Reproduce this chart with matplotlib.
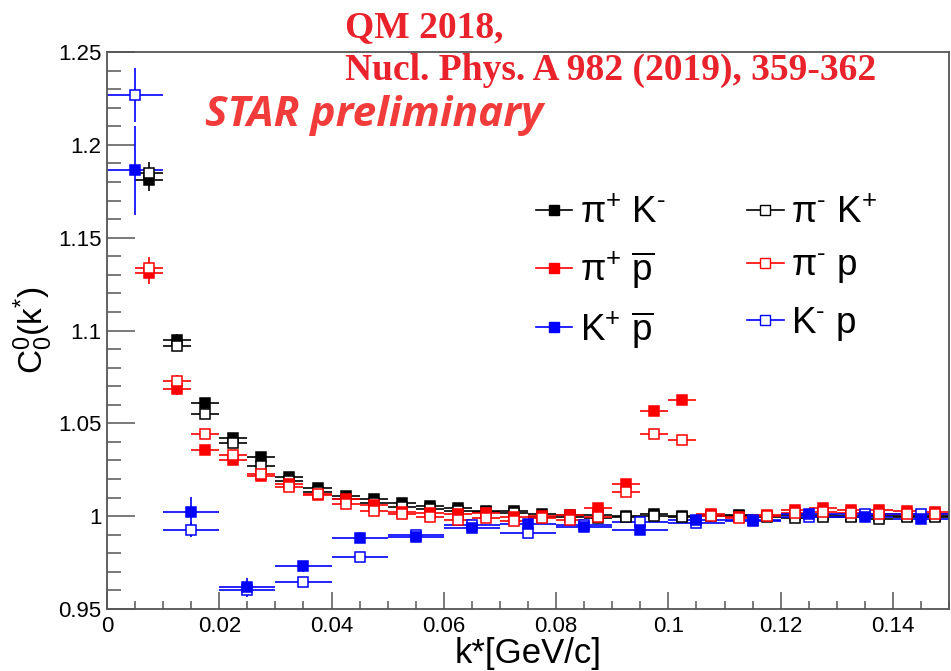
import matplotlib
matplotlib.use("Agg")
import matplotlib.pyplot as plt
from matplotlib.lines import Line2D
from matplotlib.ticker import MultipleLocator

plt.rcParams['font.family'] = ['Liberation Sans', 'DejaVu Sans']
plt.rcParams['mathtext.fontset'] = 'custom'
plt.rcParams['mathtext.rm'] = 'Liberation Sans'
plt.rcParams['mathtext.it'] = 'Liberation Sans:italic'
plt.rcParams['mathtext.bf'] = 'Liberation Sans:bold'

# pion-kaon and pion-proton bins (k*, GeV/c)
k_fine = [0.0075, 0.0125, 0.0175, 0.0225, 0.0275, 0.0325, 0.0375, 0.0425,
          0.0475, 0.0525, 0.0575, 0.0625, 0.0675, 0.0725, 0.0775, 0.0825,
          0.0875, 0.0925, 0.0975, 0.1025, 0.1075, 0.1125, 0.1175, 0.1225,
          0.1275, 0.1325, 0.1375, 0.1425, 0.1475]
# kaon-proton bins
k_wide = [0.005, 0.015, 0.025, 0.035, 0.045, 0.055, 0.065, 0.075,
          0.085, 0.095, 0.105, 0.115, 0.125, 0.135, 0.145]

pipKm = [1.181, 1.095, 1.061, 1.042, 1.032, 1.021, 1.015, 1.011,
         1.0095, 1.007, 1.0054, 1.0042, 1.003, 1.003, 1.001, 1.0005,
         1.0007, 1.0, 1.001, 1.0, 1.0005, 1.0005, 1.0, 1.0007,
         1.0005, 1.0, 1.0, 1.0, 1.0]
pipKm_err = [0.006, 0.003, 0.002, 0.002, 0.0015, 0.0015, 0.001, 0.001,
             0.001, 0.001, 0.001, 0.001, 0.001, 0.001, 0.001, 0.001,
             0.001, 0.001, 0.001, 0.001, 0.001, 0.001, 0.001, 0.001,
             0.001, 0.001, 0.001, 0.001, 0.001]

pimKp = [1.1848, 1.0918, 1.0553, 1.0395, 1.027, 1.019, 1.013, 1.0095,
         1.007, 1.005, 1.004, 1.003, 1.002, 1.0015, 0.9995, 0.9995,
         0.9991, 0.9995, 1.0, 0.9995, 1.0, 1.0, 0.9995, 0.9991,
         0.9995, 0.9995, 0.9984, 0.9995, 0.9995]
pimKp_err = pipKm_err

pipPbar = [1.1308, 1.0683, 1.0356, 1.0302, 1.0216, 1.0172, 1.0113, 1.0095,
           1.006, 1.0023, 1.0018, 1.001, 1.0018, 0.9996, 1.0, 1.0005,
           1.0045, 1.0176, 1.0567, 1.0625, 1.001, 0.9996, 1.0005, 1.0035,
           1.0042, 1.0035, 1.0032, 1.0029, 1.0024]
pipPbar_err = [0.006, 0.003, 0.002, 0.0015, 0.0015, 0.001, 0.001, 0.001,
               0.001, 0.001, 0.001, 0.001, 0.001, 0.001, 0.001, 0.001,
               0.001, 0.0015, 0.0015, 0.0015, 0.001, 0.001, 0.001, 0.001,
               0.001, 0.001, 0.001, 0.001, 0.001]

pimP = [1.1338, 1.0729, 1.044, 1.033, 1.0225, 1.0158, 1.0122, 1.0068,
        1.0029, 1.001, 0.9996, 0.9978, 0.9988, 0.9973, 0.9988, 0.9978,
        0.9996, 1.0131, 1.0442, 1.041, 1.0, 0.999, 1.0, 1.0015,
        1.002, 1.0015, 1.001, 1.001, 1.001]
pimP_err = pipPbar_err

KpPbar = [1.1864, 1.002, 0.9616, 0.973, 0.9883, 0.9889, 0.9939, 0.996,
          0.9942, 0.9928, 0.9978, 0.9975, 1.0014, 0.9996, 0.9984]
KpPbar_err = [0.024, 0.0085, 0.005, 0.003, 0.003, 0.002, 0.0015, 0.0015,
              0.0015, 0.0015, 0.001, 0.001, 0.001, 0.001, 0.001]

KmP = [1.2268, 0.9928, 0.9605, 0.9648, 0.978, 0.9897, 0.9952, 0.9912,
       0.995, 0.9966, 0.9965, 0.998, 0.9993, 1.001, 1.0014]
KmP_err = [0.0145, 0.004, 0.003, 0.002, 0.002, 0.0015, 0.0015, 0.001,
           0.001, 0.001, 0.001, 0.001, 0.001, 0.001, 0.001]

fig = plt.figure(figsize=(9.51, 6.71), dpi=100)
ax = fig.add_axes([0.1125, 0.0924, 0.8855, 0.830])

ms = 6.5
def draw(x, y, yerr, xw, color, filled):
    ax.errorbar(x, y, xerr=xw, yerr=yerr, fmt='s', ms=ms, color=color,
                mfc=color if filled else 'white', mec=color, mew=1.1,
                ecolor=color, elinewidth=1.2, capsize=0)

draw(k_fine, pipKm, pipKm_err, 0.0025, 'black', True)
draw(k_fine, pimKp, pimKp_err, 0.0025, 'black', False)
draw(k_fine, pipPbar, pipPbar_err, 0.0025, '#ff0000', True)
draw(k_fine, pimP, pimP_err, 0.0025, '#ff0000', False)
draw(k_wide, KmP, KmP_err, 0.005, '#0000ff', False)
draw(k_wide, KpPbar, KpPbar_err, 0.005, '#0000ff', True)

ax.set_xlim(0, 0.15)
ax.set_ylim(0.95, 1.25)
ax.xaxis.set_minor_locator(MultipleLocator(0.005))
ax.yaxis.set_minor_locator(MultipleLocator(0.01))
ax.set_xticks([0, 0.02, 0.04, 0.06, 0.08, 0.1, 0.12, 0.14])
ax.set_xticklabels(['0', '0.02', '0.04', '0.06', '0.08', '0.1', '0.12', '0.14'])
ax.set_yticks([0.95, 1.0, 1.05, 1.1, 1.15, 1.2, 1.25])
ax.set_yticklabels(['0.95', '1', '1.05', '1.1', '1.15', '1.2', '1.25'])

for s in ax.spines.values():
    s.set_color('#555555')
    s.set_linewidth(1.3)
ax.tick_params(axis='both', which='both', direction='in', colors='#555555',
               labelcolor='black', labelsize=16, width=1.1)
ax.tick_params(axis='x', which='major', length=12, pad=5)
ax.tick_params(axis='x', which='minor', length=6)
ax.tick_params(axis='y', which='major', length=20, pad=4)
ax.tick_params(axis='y', which='minor', length=10)

ax.set_xlabel('k*[GeV/c]', fontsize=25, labelpad=0)
ax.set_ylabel(r'C$_{0}^{0}$(k$^{*}$)', fontsize=24, labelpad=2)

handles = [
    Line2D([], [], color='black', marker='s', ms=ms, mfc='black', lw=1.2),
    Line2D([], [], color='#ff0000', marker='s', ms=ms, mfc='#ff0000', lw=1.2),
    Line2D([], [], color='#0000ff', marker='s', ms=ms, mfc='#0000ff', lw=1.2),
    Line2D([], [], color='black', marker='s', ms=ms, mfc='white', lw=1.2),
    Line2D([], [], color='#ff0000', marker='s', ms=ms, mfc='white', lw=1.2),
    Line2D([], [], color='#0000ff', marker='s', ms=ms, mfc='white', lw=1.2),
]
labels = [r'$\mathrm{\pi^{+}\ K^{\text{-}}}$', r'$\mathrm{\pi^{+}\ \overline{p}}$',
          r'$\mathrm{K^{+}\ \overline{p}}$', r'$\mathrm{\pi^{\text{-}}\ K^{+}}$',
          r'$\mathrm{\pi^{\text{-}}\ p}$', r'$\mathrm{K^{\text{-}}\ p}$']
ax.legend(handles, labels, ncol=2, loc='upper left', bbox_to_anchor=(0.509, 0.742),
          frameon=False, fontsize=26.5, borderpad=0, borderaxespad=0,
          handlelength=1.0, handletextpad=0.2, columnspacing=2.2, labelspacing=0.5)

red = '#e9222b'
fig.text(345 / 951, 1 - 28 / 671, 'QM 2018,', family='Liberation Serif',
         weight='bold', fontsize=27, color=red, va='center', ha='left')
fig.text(345 / 951, 1 - 70 / 671, 'Nucl. Phys. A 982 (2019), 359-362',
         family='Liberation Serif', weight='bold', fontsize=27, color=red,
         va='center', ha='left')
fig.text(205 / 951, 1 - 115 / 671, 'STAR preliminary', family='Open Sans',
         weight='bold', style='italic', fontsize=30.5, color='#f23b3b',
         va='center', ha='left')

fig.savefig('out.png', dpi=100)
